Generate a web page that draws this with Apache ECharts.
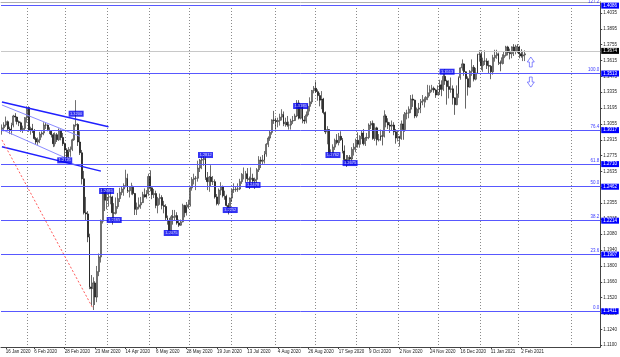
<!DOCTYPE html>
<html>
<head>
<meta charset="utf-8">
<script src="https://cdn.jsdelivr.net/npm/echarts@6/dist/echarts.min.js"></script>
<style>
  html, body { margin: 0; padding: 0; background: #fff; }
  #chart { width: 620px; height: 357px; }
</style>
</head>
<body>
<div id="chart"></div>
<script>
// daily bars, GBP/USD, 14 Jan 2020 .. 4 Feb 2021 (weekdays, no bar on the holidays below)
const firstDay = [2020, 0, 14];
const holidays = ['25 Dec 2020', '1 Jan 2021'];
const slotCount = 315; // data bars + empty space on the right

const opens = [
  1.2995,1.3020,1.3045,1.3075,1.3010,1.3000,1.3045,1.3125,1.3115,1.3075,1.3065,1.3005,1.3015,1.3110,
  1.3200,1.2998,1.3015,1.2995,1.2925,1.2895,1.2915,1.2965,1.2975,1.3045,1.3045,1.3005,1.2990,1.2960,1.2880,1.2960,1.2915,1.3000,1.2935,1.2880,
  1.2825,1.2765,1.2810,1.2830,1.2915,1.3045,1.3050,1.2895,1.2800,1.2570,1.2270,1.2260,1.2055,1.1615,1.1600,1.1650,1.1525,1.1750,1.1880,1.2195,1.2460,1.2380,
  1.2405,1.2410,1.2410,1.2270,1.2265,1.2325,1.2395,1.2450,1.2480,1.2510,1.2575,1.2460,1.2465,1.2495,1.2440,1.2300,1.2320,1.2340,1.2360,1.2430,1.2410,1.2440,
  1.2590,1.2490,1.2430,1.2440,1.2335,1.2395,1.2405,1.2335,1.2325,1.2225,1.2200,1.2110,1.2235,1.2230,1.2245,1.2180,1.2160,1.2190,1.2335,1.2270,1.2320,
  1.2340,1.2490,1.2565,1.2575,1.2575,1.2665,1.2735,1.2740,1.2750,1.2580,1.2545,1.2585,1.2545,1.2545,1.2410,1.2350,1.2470,1.2500,1.2420,1.2415,1.2335,1.2315,
  1.2400,1.2475,1.2475,1.2480,1.2480,1.2545,1.2610,1.2610,1.2615,1.2570,1.2565,1.2575,1.2550,1.2565,1.2650,1.2735,1.2725,1.2735,1.2790,1.2875,1.2930,1.2980,1.3090,
  1.3085,1.3075,1.3085,1.3115,1.3140,1.3055,1.3070,1.3045,1.3045,1.3080,1.3085,1.3125,1.3240,1.3105,1.3210,1.3090,1.3080,1.3135,1.3210,1.3250,1.3350,
  1.3370,1.3340,1.3305,1.3265,1.3275,1.3155,1.2985,1.3005,1.2795,1.2795,1.2850,1.2910,1.2890,1.2945,1.2915,1.2815,1.2740,1.2725,1.2760,1.2745,1.2830,1.2850,
  1.2910,1.2875,1.2945,1.2975,1.2880,1.2930,1.2935,1.3045,1.3060,1.2925,1.3020,1.2915,1.2915,1.2950,1.2945,1.3125,1.3070,1.3045,1.3035,1.3045,1.2985,1.2930,
  1.2945,1.2925,1.3055,1.3005,1.3150,1.3150,1.3185,1.3275,1.3265,1.3125,1.3185,1.3195,1.3245,1.3255,1.3270,1.3290,1.3330,1.3355,1.3370,1.3355,1.3310,
  1.3335,1.3400,1.3360,1.3475,1.3435,1.3385,1.3360,1.3365,1.3285,1.3225,1.3320,1.3465,1.3550,1.3585,1.3515,1.3455,1.3380,1.3520,1.3555,1.3450,1.3505,1.3670,
  1.3670,1.3570,1.3610,1.3610,1.3570,1.3565,1.3515,1.3640,1.3660,1.3675,1.3595,1.3590,1.3640,1.3660,1.3735,1.3685,1.3675,1.3735,1.3700,1.3740,
  1.3735,1.3675,1.3655,1.3665
];
const highs = [
  1.3050,1.3070,1.3120,1.3085,1.3030,1.3065,1.3135,1.3150,1.3120,1.3085,1.3075,1.3040,1.3115,1.3210,
  1.3210,1.3030,1.3055,1.3010,1.2940,1.2935,1.2985,1.2990,1.3070,1.3070,1.3050,1.3025,1.3000,1.2975,1.2980,1.2975,1.3015,1.3005,1.2975,1.2890,
  1.2840,1.2850,1.2855,1.2925,1.3050,1.3265,1.3060,1.2990,1.2825,1.2640,1.2410,1.2285,1.2085,1.1720,1.1700,1.1665,1.1800,1.1910,1.2210,1.2485,1.2470,1.2475,
  1.2445,1.2485,1.2420,1.2355,1.2405,1.2445,1.2490,1.2500,1.2530,1.2650,1.2615,1.2505,1.2535,1.2510,1.2445,1.2360,1.2405,1.2410,1.2455,1.2485,1.2470,1.2615,
  1.2645,1.2495,1.2480,1.2465,1.2410,1.2440,1.2425,1.2375,1.2345,1.2245,1.2225,1.2250,1.2295,1.2295,1.2275,1.2210,1.2210,1.2350,1.2340,1.2365,1.2385,
  1.2500,1.2585,1.2615,1.2595,1.2730,1.2745,1.2765,1.2790,1.2765,1.2630,1.2595,1.2690,1.2595,1.2565,1.2435,1.2485,1.2540,1.2510,1.2465,1.2430,1.2355,1.2405,
  1.2480,1.2530,1.2500,1.2530,1.2570,1.2620,1.2670,1.2640,1.2665,1.2590,1.2670,1.2615,1.2580,1.2665,1.2770,1.2765,1.2780,1.2815,1.2885,1.2945,1.3000,1.3095,1.3170,
  1.3110,1.3110,1.3145,1.3185,1.3165,1.3110,1.3125,1.3075,1.3100,1.3125,1.3145,1.3265,1.3265,1.3230,1.3230,1.3125,1.3165,1.3225,1.3290,1.3355,1.3390,
  1.3430,1.3360,1.3330,1.3345,1.3285,1.3165,1.3035,1.3010,1.2830,1.2875,1.2925,1.2965,1.2975,1.2990,1.2930,1.2865,1.2780,1.2780,1.2780,1.2850,1.2885,1.2925,
  1.2980,1.2955,1.3000,1.3010,1.2940,1.2975,1.3060,1.3080,1.3085,1.3060,1.3030,1.2965,1.3005,1.2995,1.3175,1.3140,1.3105,1.3070,1.3085,1.3070,1.3010,1.3000,
  1.2950,1.3085,1.3140,1.3160,1.3180,1.3210,1.3310,1.3315,1.3270,1.3200,1.3240,1.3275,1.3310,1.3290,1.3300,1.3400,1.3395,1.3400,1.3385,1.3365,1.3395,
  1.3445,1.3440,1.3500,1.3540,1.3445,1.3440,1.3465,1.3395,1.3290,1.3395,1.3475,1.3555,1.3625,1.3590,1.3520,1.3475,1.3530,1.3625,1.3575,1.3550,1.3675,1.3705,
  1.3705,1.3640,1.3705,1.3635,1.3615,1.3575,1.3665,1.3710,1.3710,1.3685,1.3615,1.3670,1.3695,1.3745,1.3745,1.3720,1.3740,1.3760,1.3755,1.3760,
  1.3745,1.3715,1.3700,1.3705
];
const lows = [
  1.2960,1.2990,1.3030,1.2990,1.2965,1.2960,1.3025,1.3075,1.3050,1.3035,1.2985,1.2975,1.2995,1.3065,
  1.2985,1.2960,1.2975,1.2915,1.2870,1.2870,1.2885,1.2935,1.2955,1.3010,1.2990,1.2965,1.2935,1.2850,1.2855,1.2895,1.2905,1.2910,1.2860,1.2725,
  1.2725,1.2750,1.2765,1.2815,1.2905,1.3030,1.2860,1.2780,1.2520,1.2255,1.2200,1.2010,1.1595,1.1450,1.1411,1.1455,1.1480,1.1710,1.1830,1.2175,1.2285,1.2300,
  1.2325,1.2345,1.2165,1.2205,1.2255,1.2305,1.2365,1.2425,1.2420,1.2495,1.2445,1.2405,1.2430,1.2425,1.2250,1.2250,1.2300,1.2305,1.2355,1.2405,1.2395,1.2420,
  1.2460,1.2390,1.2400,1.2310,1.2265,1.2340,1.2300,1.2265,1.2205,1.2165,1.2085,1.2075,1.2165,1.2200,1.2165,1.2145,1.2155,1.2185,1.2230,1.2245,1.2305,
  1.2325,1.2465,1.2520,1.2470,1.2545,1.2630,1.2655,1.2685,1.2560,1.2470,1.2455,1.2500,1.2515,1.2395,1.2335,1.2335,1.2425,1.2405,1.2385,1.2325,1.2255,1.2285,
  1.2365,1.2445,1.2455,1.2455,1.2470,1.2525,1.2565,1.2535,1.2545,1.2480,1.2540,1.2520,1.2480,1.2530,1.2630,1.2665,1.2695,1.2705,1.2765,1.2850,1.2905,1.2960,1.3055,
  1.3005,1.3025,1.3040,1.3085,1.3035,1.3030,1.3030,1.3005,1.3005,1.3055,1.3080,1.3115,1.3095,1.3095,1.3060,1.3055,1.3060,1.3120,1.3165,1.3230,1.3325,
  1.3330,1.3260,1.3210,1.3185,1.3140,1.2965,1.2875,1.2775,1.2765,1.2775,1.2825,1.2875,1.2865,1.2905,1.2795,1.2720,1.2675,1.2690,1.2705,1.2730,1.2775,1.2805,
  1.2845,1.2845,1.2920,1.2865,1.2860,1.2905,1.2920,1.3010,1.2915,1.2905,1.2865,1.2900,1.2905,1.2865,1.2935,1.3025,1.3010,1.2975,1.2995,1.2955,1.2880,1.2900,
  1.2855,1.2915,1.2915,1.2985,1.3095,1.3105,1.3150,1.3205,1.3105,1.3110,1.3150,1.3150,1.3220,1.3200,1.3245,1.3265,1.3300,1.3335,1.3330,1.3285,1.3310,
  1.3310,1.3300,1.3345,1.3400,1.3225,1.3280,1.3330,1.3225,1.3135,1.3220,1.3285,1.3445,1.3525,1.3480,1.3190,1.3305,1.3375,1.3480,1.3430,1.3440,1.3495,1.3605,
  1.3530,1.3515,1.3575,1.3540,1.3500,1.3450,1.3490,1.3605,1.3630,1.3575,1.3520,1.3580,1.3585,1.3650,1.3660,1.3625,1.3635,1.3655,1.3670,1.3680,
  1.3635,1.3640,1.3610,1.3610
];
const closes = [
  1.3020,1.3045,1.3075,1.3010,1.3000,1.3045,1.3125,1.3115,1.3075,1.3065,1.3005,1.3015,1.3110,1.3200,
  1.2998,1.3015,1.2995,1.2925,1.2895,1.2915,1.2965,1.2975,1.3045,1.3045,1.3005,1.2990,1.2960,1.2880,1.2960,1.2915,1.3000,1.2935,1.2880,1.2825,
  1.2765,1.2810,1.2830,1.2915,1.3045,1.3050,1.2895,1.2800,1.2570,1.2270,1.2260,1.2055,1.1615,1.1600,1.1650,1.1525,1.1750,1.1880,1.2195,1.2460,1.2380,1.2405,
  1.2410,1.2410,1.2270,1.2265,1.2325,1.2395,1.2450,1.2480,1.2510,1.2575,1.2460,1.2465,1.2495,1.2440,1.2300,1.2320,1.2340,1.2360,1.2430,1.2410,1.2440,1.2590,
  1.2490,1.2430,1.2440,1.2335,1.2395,1.2405,1.2335,1.2325,1.2225,1.2200,1.2110,1.2235,1.2230,1.2245,1.2180,1.2160,1.2190,1.2335,1.2270,1.2320,1.2340,
  1.2490,1.2565,1.2575,1.2575,1.2665,1.2735,1.2740,1.2750,1.2580,1.2545,1.2585,1.2545,1.2545,1.2410,1.2350,1.2470,1.2500,1.2420,1.2415,1.2335,1.2315,1.2400,
  1.2475,1.2475,1.2480,1.2480,1.2545,1.2610,1.2610,1.2615,1.2570,1.2565,1.2575,1.2550,1.2565,1.2650,1.2735,1.2725,1.2735,1.2790,1.2875,1.2930,1.2980,1.3090,1.3085,
  1.3075,1.3085,1.3115,1.3140,1.3055,1.3070,1.3045,1.3045,1.3080,1.3085,1.3125,1.3240,1.3105,1.3210,1.3090,1.3080,1.3135,1.3210,1.3250,1.3350,1.3370,
  1.3340,1.3305,1.3265,1.3275,1.3155,1.2985,1.3005,1.2795,1.2795,1.2850,1.2910,1.2890,1.2945,1.2915,1.2815,1.2740,1.2725,1.2760,1.2745,1.2830,1.2850,1.2910,
  1.2875,1.2945,1.2975,1.2880,1.2930,1.2935,1.3045,1.3060,1.2925,1.3020,1.2915,1.2915,1.2950,1.2945,1.3125,1.3070,1.3045,1.3035,1.3045,1.2985,1.2930,1.2945,
  1.2925,1.3055,1.3005,1.3150,1.3150,1.3185,1.3275,1.3265,1.3125,1.3185,1.3195,1.3245,1.3255,1.3270,1.3290,1.3330,1.3355,1.3370,1.3355,1.3310,1.3335,
  1.3400,1.3360,1.3475,1.3435,1.3385,1.3360,1.3365,1.3285,1.3225,1.3320,1.3465,1.3550,1.3585,1.3515,1.3455,1.3380,1.3520,1.3555,1.3450,1.3505,1.3670,1.3670,
  1.3570,1.3610,1.3610,1.3570,1.3565,1.3515,1.3640,1.3660,1.3675,1.3595,1.3590,1.3640,1.3660,1.3735,1.3685,1.3675,1.3735,1.3700,1.3740,1.3735,
  1.3675,1.3655,1.3665,1.3674
];

const labelDates = ['16 Jan 2020', '6 Feb 2020', '28 Feb 2020', '23 Mar 2020', '14 Apr 2020', '6 May 2020',
  '28 May 2020', '19 Jun 2020', '13 Jul 2020', '4 Aug 2020', '26 Aug 2020', '17 Sep 2020', '9 Oct 2020',
  '2 Nov 2020', '24 Nov 2020', '16 Dec 2020', '11 Jan 2021', '2 Feb 2021'];
const gridDates = ['3 Feb 2020', '2 Mar 2020', '1 Apr 2020', '1 May 2020', '1 Jun 2020', '1 Jul 2020',
  '3 Aug 2020', '1 Sep 2020', '1 Oct 2020', '2 Nov 2020', '1 Dec 2020', '4 Jan 2021', '1 Feb 2021', '11 Mar 2021'];
const yTicks = [1.4035, 1.3895, 1.3755, 1.3615, 1.3475, 1.3335, 1.3195, 1.3055, 1.2915, 1.2775, 1.2635,
  1.2495, 1.2355, 1.2215, 1.2080, 1.1940, 1.1800, 1.1660, 1.1520, 1.1380, 1.1240, 1.1100];

// fibonacci levels
const fibNames = ['127.2', '100.0', '76.4', '61.8', '50.0', '38.2', '23.6', '0.0'];
const fibPrices = [1.4086, 1.3513, 1.3017, 1.2710, 1.2462, 1.2214, 1.1907, 1.1411];
const lastPrice = 1.3674;

// blue price tags on the chart
const boxDates = ['9 Mar 2020', '28 Feb 2020', '31 Mar 2020', '6 Apr 2020', '18 May 2020', '11 Jun 2020',
  '30 Jun 2020', '16 Jul 2020', '20 Aug 2020', '14 Sep 2020', '25 Sep 2020', '7 Dec 2020'];
const boxPrices = [1.3145, 1.2733, 1.2462, 1.2206, 1.2091, 1.2780, 1.2294, 1.2515, 1.3213, 1.2780, 1.2709, 1.3516];
const boxTexts = ['1.3200', '1.2725', '1.2485', '1.2165', '1.2075', '1.2812', '1.2252', '1.2478', '1.3185',
  '1.2762', '1.2675', '1.3513'];

// channel lines [start, end]
const channelTop = [['14 Jan 2020', 1.3249], ['1 Apr 2020', 1.3030]];
const channelBottom = [['14 Jan 2020', 1.2854], ['26 Mar 2020', 1.2638]];
const innerTop = [['14 Jan 2020', 1.3222], ['11 Mar 2020', 1.2945]];
const innerBottom = [['14 Jan 2020', 1.3005], ['2 Mar 2020', 1.2750]];
const fibBase = [['14 Jan 2020', 1.2913], ['20 Mar 2020', 1.1420]];

const arrowDates = ['9 Feb 2021', '9 Feb 2021'];
const arrowPrices = [1.3602, 1.3425];

if (opens.length !== closes.length || highs.length !== closes.length || lows.length !== closes.length) {
  throw new Error('length mismatch ' + [opens.length, highs.length, lows.length, closes.length].join(','));
}

const MONTHS = ['Jan', 'Feb', 'Mar', 'Apr', 'May', 'Jun', 'Jul', 'Aug', 'Sep', 'Oct', 'Nov', 'Dec'];
const dates = [];
const day = new Date(Date.UTC(firstDay[0], firstDay[1], firstDay[2]));
while (dates.length < slotCount) {
  const wd = day.getUTCDay();
  const s = day.getUTCDate() + ' ' + MONTHS[day.getUTCMonth()] + ' ' + day.getUTCFullYear();
  if (wd !== 0 && wd !== 6 && holidays.indexOf(s) < 0) dates.push(s);
  day.setUTCDate(day.getUTCDate() + 1);
}

const FONT = 'Liberation Sans';
const fibLineColor = '#5858ff';

// fib lines: one visible line with the % label, one invisible twin carrying the price tag on the axis
const markLines = [];
fibPrices.forEach((p, i) => {
  markLines.push({
    yAxis: p,
    lineStyle: { color: fibLineColor, width: 1, type: 'solid' },
    label: { show: true, position: 'insideEndTop', formatter: fibNames[i], color: '#3a3aff',
      fontSize: 4.5, fontFamily: FONT, distance: [1, 1] },
  });
});
const tagLines = fibPrices.map(p => ({
  yAxis: p,
  label: { show: true, position: 'end', formatter: p.toFixed(4), color: '#fff', backgroundColor: '#0000ff',
    fontSize: 4.5, fontFamily: FONT, padding: [1, 2, 0, 2], distance: 1 },
}));
markLines.push({
  yAxis: lastPrice,
  lineStyle: { color: '#c8c8c8', width: 1, type: 'solid' },
  label: { show: true, position: 'end', formatter: lastPrice.toFixed(4), color: '#fff', backgroundColor: '#000',
    fontSize: 4.5, fontFamily: FONT, padding: [1, 2, 0, 2], distance: 1 },
});

function trend(data, color, width, type) {
  return {
    type: 'line', data: data, showSymbol: false, symbol: 'none', silent: true,
    lineStyle: { color: color, width: width, type: type || 'solid' }, z: 3,
  };
}

const chart = echarts.init(document.getElementById('chart'), null, { renderer: 'canvas' });
chart.setOption({
  animation: false,
  backgroundColor: '#fff',
  grid: { left: 1, right: 19, top: 2, bottom: 10 },
  xAxis: [{
    type: 'category',
    data: dates,
    boundaryGap: true,
    axisLine: { lineStyle: { color: '#444', width: 1 } },
    axisTick: { show: true, alignWithLabel: true, length: 2, lineStyle: { color: '#444' },
      interval: (i, v) => labelDates.indexOf(v) >= 0 },
    axisLabel: { interval: (i, v) => labelDates.indexOf(v) >= 0, fontSize: 4.5, fontFamily: FONT,
      color: '#222', align: 'left', margin: 2 },
    splitLine: { show: true, interval: (i, v) => gridDates.indexOf(v) >= 0,
      lineStyle: { color: '#8a8a8a', width: 1, type: [1, 2] } },
  }, {
    type: 'category',
    data: dates,
    position: 'top',
    axisLine: { lineStyle: { color: '#b0b0b0' } },
    axisTick: { show: false },
    axisLabel: { show: false },
    splitLine: { show: false },
  }],
  yAxis: {
    type: 'value',
    position: 'right',
    min: 1.1084,
    max: 1.4132,
    axisLine: { show: true, lineStyle: { color: '#444', width: 1 } },
    axisTick: { show: true, length: 2, customValues: yTicks, lineStyle: { color: '#444' } },
    axisLabel: { customValues: yTicks, formatter: v => v.toFixed(4), fontSize: 4.5, fontFamily: FONT,
      color: '#222', margin: 3 },
    splitLine: { show: false },
  },
  series: [
    {
      type: 'candlestick',
      data: closes.map((c, i) => [opens[i], c, lows[i], highs[i]]),
      barWidth: 1.4,
      itemStyle: { color: '#ffffff', color0: '#000000', borderColor: '#111', borderColor0: '#000', borderWidth: 0.6 },
      markLine: { silent: true, symbol: ['none', 'none'], animation: false, data: markLines },
      z: 2,
    },
    {
      // carries the blue price tags of the fib levels on the price axis
      type: 'line',
      data: [],
      markLine: { silent: true, symbol: ['none', 'none'], animation: false,
        lineStyle: { color: 'rgba(0,0,0,0)', width: 0 }, data: tagLines },
      z: 6,
    },
    trend(channelTop, '#2020ff', 1.5),
    trend(channelBottom, '#2020ff', 1.5),
    trend(innerTop, '#8a8aff', 1),
    trend(innerBottom, '#8a8aff', 1),
    trend(fibBase, '#ff5a5a', 1, [2, 2]),
    {
      type: 'scatter',
      data: boxDates.map((d, i) => [d, boxPrices[i]]),
      symbol: 'rect',
      symbolSize: [15, 6],
      itemStyle: { color: '#0000f0' },
      label: { show: true, position: 'inside', formatter: p => boxTexts[p.dataIndex], color: '#fff',
        fontSize: 4, fontFamily: FONT },
      silent: true,
      z: 5,
    },
    {
      type: 'scatter',
      data: [[arrowDates[0], arrowPrices[0]]],
      symbol: 'path://M5,0L10,6L7,6L7,12L3,12L3,6L0,6Z',
      symbolSize: [7, 10],
      itemStyle: { color: '#fff', borderColor: '#4a4aff', borderWidth: 0.8 },
      silent: true,
      z: 5,
    },
    {
      type: 'scatter',
      data: [[arrowDates[1], arrowPrices[1]]],
      symbol: 'path://M3,0L7,0L7,6L10,6L5,12L0,6L3,6Z',
      symbolSize: [7, 10],
      itemStyle: { color: '#fff', borderColor: '#4a4aff', borderWidth: 0.8 },
      silent: true,
      z: 5,
    },
  ],
});
</script>
</body>
</html>
